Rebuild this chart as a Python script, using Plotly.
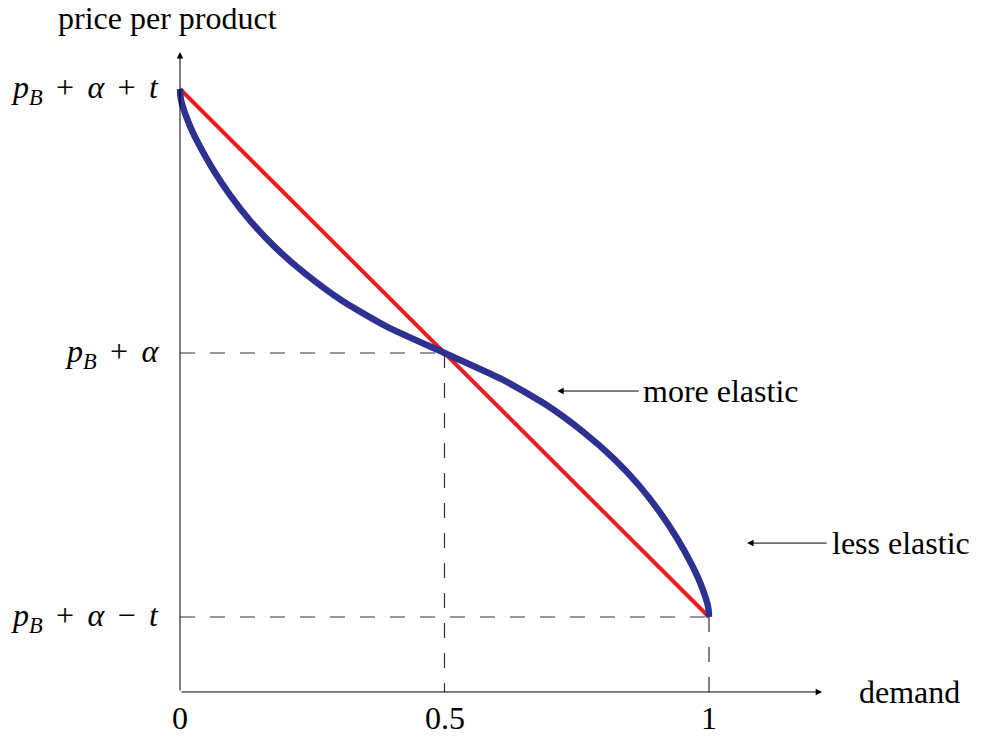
import plotly.graph_objects as go

# data
tick_values = [0, 0.5, 1]
tick_labels = ["0", "0.5", "1"]
price_levels = [1, 0, -1]
SP = "&#8196;&#8202;"
price_labels = ["<i>p</i><sub><i>B</i></sub>" + SP + "+" + SP + "<i>α</i>" + SP + "+" + SP + "<i>t</i>",
                "<i>p</i><sub><i>B</i></sub>" + SP + "+" + SP + "<i>α</i>",
                "<i>p</i><sub><i>B</i></sub>" + SP + "+" + SP + "<i>α</i>" + SP + "−" + SP + "<i>t</i>"]
linear_demand = [0, 1]
linear_price = [1, -1]
curve_demand = [0.0, 0.001, 0.003, 0.011, 0.021, 0.033, 0.061, 0.094, 0.133, 0.18, 0.237, 0.305, 0.391, 0.5,
                0.609, 0.695, 0.763, 0.82, 0.867, 0.906, 0.939, 0.967, 0.979, 0.989, 0.997, 0.999, 1.0]
curve_price = [1.0, 0.97, 0.95, 0.9, 0.85, 0.8, 0.7, 0.6, 0.5, 0.4, 0.3, 0.2, 0.1, 0.0,
               -0.1, -0.2, -0.3, -0.4, -0.5, -0.6, -0.7, -0.8, -0.85, -0.9, -0.95, -0.97, -1.0]

FONT = "Liberation Serif"
FS = 32
fig = go.Figure()

# dashed guides
for (x0, y0, x1, y1) in [(0, 0, 0.5, 0), (0, -1, 1, -1), (0.5, 0, 0.5, -1.284), (1, -1, 1, -1.284)]:
    fig.add_shape(type="line", x0=x0, y0=y0, x1=x1, y1=y1,
                  line=dict(color="#333333", width=1.2, dash="15px,15px"))

fig.add_trace(go.Scatter(x=linear_demand, y=linear_price, mode="lines",
                         line=dict(color="#ec1c24", width=4), hoverinfo="skip"))
fig.add_trace(go.Scatter(x=curve_demand, y=curve_price, mode="lines",
                         line=dict(color="#2e3192", width=6.5, shape="spline", smoothing=0.6),
                         hoverinfo="skip"))

ann = []
arrow = dict(xref="x", yref="y", axref="x", ayref="y", showarrow=True, arrowhead=2,
             arrowsize=1.3, arrowwidth=1, arrowcolor="black", text="")
ann.append(dict(x=1.214, y=-1.284, ax=0, ay=-1.284, **arrow))
ann.append(dict(x=0, y=1.14, ax=0, ay=-1.284, **arrow))
ann.append(dict(x=0.713, y=-0.144, ax=0.87, ay=-0.144, **arrow))
ann.append(dict(x=1.072, y=-0.72, ax=1.225, ay=-0.72, **arrow))

txt = dict(showarrow=False, font=dict(family=FONT, size=FS, color="black"))
ann.append(dict(x=0.872, y=-0.144, text="more elastic", xanchor="left", yanchor="middle", **txt))
ann.append(dict(x=1.228, y=-0.72, text="less elastic", xanchor="left", yanchor="middle", **txt))
ann.append(dict(x=1.28, y=-1.284, text="demand", xanchor="left", yanchor="middle", **txt))
ann.append(dict(x=-0.235, y=1.27, text="price per product", xanchor="left", yanchor="middle", **txt))
for v, t in zip(tick_values, tick_labels):
    ann.append(dict(x=v, y=-1.383, text=t, xanchor="center", yanchor="middle", **txt))
for v, t in zip(price_levels, price_labels):
    ann.append(dict(x=-0.036, y=v, text=t, xanchor="right", yanchor="middle", **txt))

# page body has an 8px margin: figure placed at (8,8)
fig.update_layout(
    width=973, height=739, margin=dict(l=0, r=0, t=0, b=0),
    paper_bgcolor="white", plot_bgcolor="white", showlegend=False,
    xaxis=dict(range=[-172 / 529, 801 / 529], visible=False, fixedrange=True),
    yaxis=dict(range=[-394 / 264, 345 / 264], visible=False, fixedrange=True),
    annotations=ann,
)
fig.write_html("out.html")
